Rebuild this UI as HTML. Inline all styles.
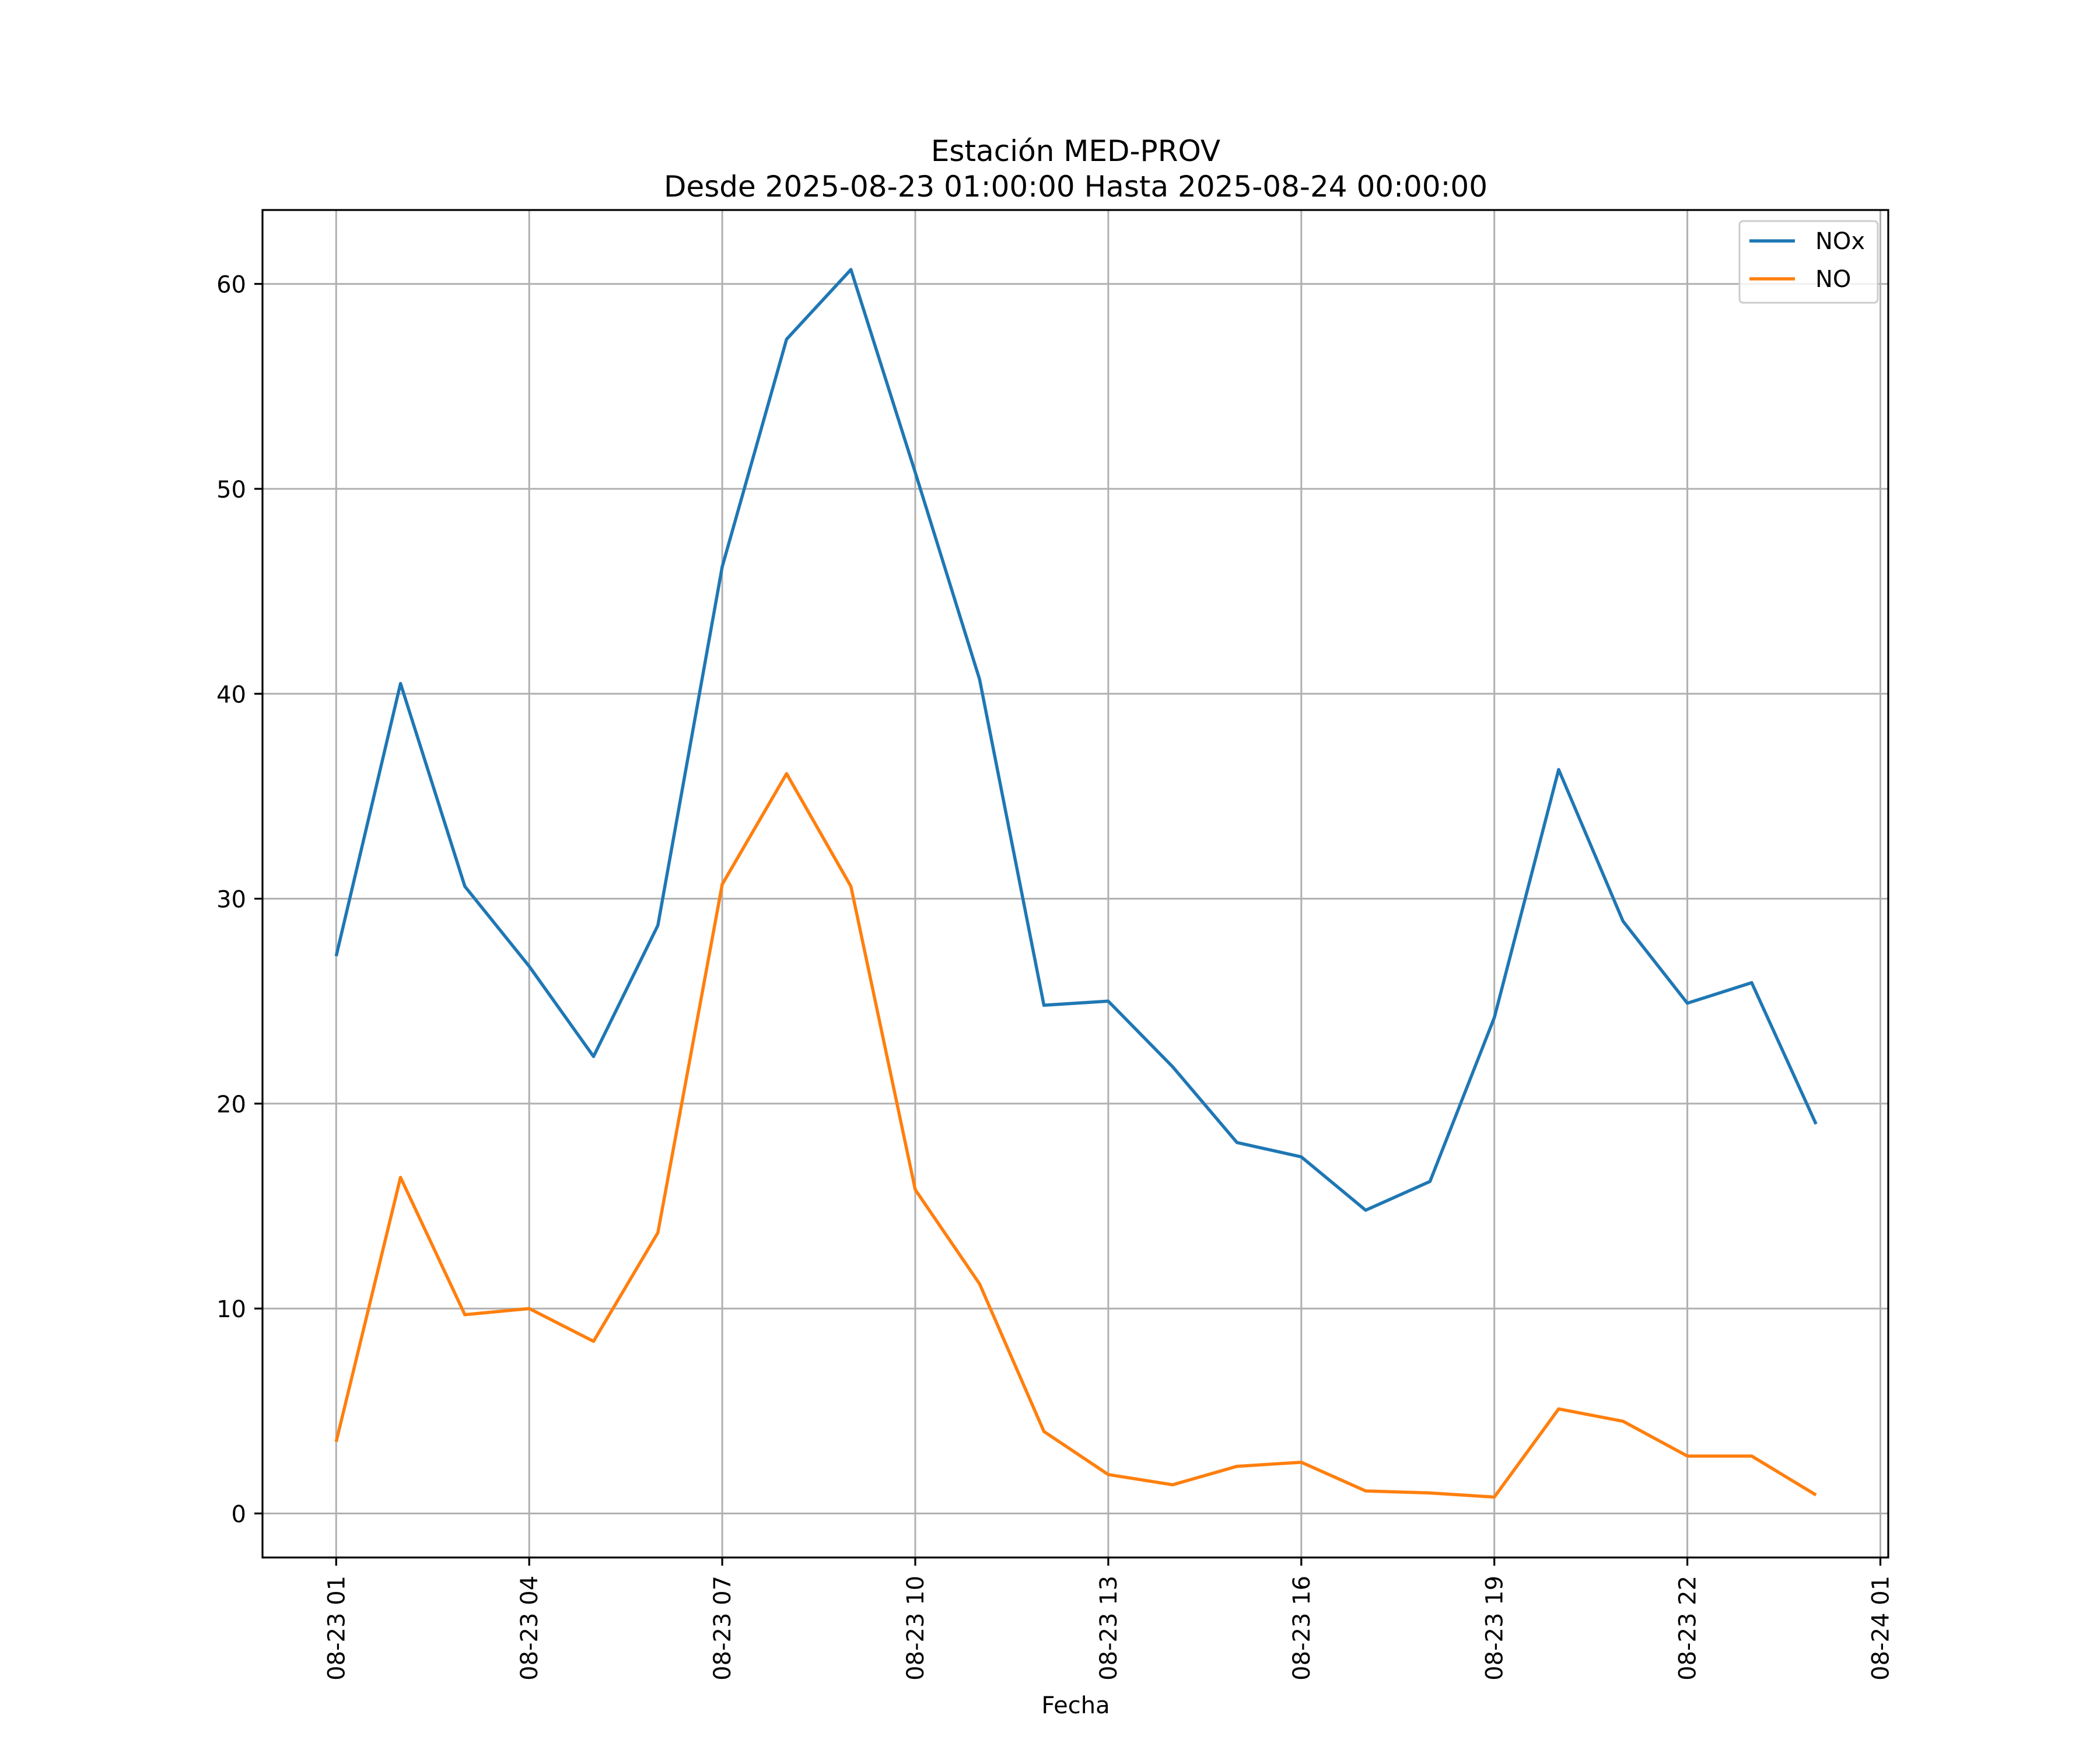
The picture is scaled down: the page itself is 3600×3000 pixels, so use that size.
<!DOCTYPE html>
<html><head><meta charset="utf-8"><style>html,body{margin:0;padding:0;background:#fff}svg{display:block}</style></head>
<body>
<svg id="chart" width="3600" height="3000" viewBox="0 0 3600 3000" xmlns="http://www.w3.org/2000/svg" font-family="DejaVu Sans, Liberation Sans, sans-serif">
<rect width="3600" height="3000" fill="#fff"/>
<text x="1844" y="276" font-size="50" text-anchor="middle">Estación MED-PROV</text>
<text x="1844" y="337" font-size="50" text-anchor="middle">Desde 2025-08-23 01:00:00 Hasta 2025-08-24 00:00:00</text>
<g id="grid"></g>
<g id="series"></g>
<rect x="450" y="360" width="2787" height="2310" fill="none" stroke="#000" stroke-width="3.2"/>
<g id="ticks"></g>
<text x="1844" y="2937" font-size="40" text-anchor="middle">Fecha</text>
<g>
<rect x="2982" y="379" width="237" height="140" rx="6" fill="#fff" fill-opacity="0.8" stroke="#ccc" stroke-width="3"/>
<line x1="2999" y1="413" x2="3077" y2="413" stroke="#1f77b4" stroke-width="5.5"/>
<text x="3112" y="427" font-size="40">NOx</text>
<line x1="2999" y1="478" x2="3077" y2="478" stroke="#ff7f0e" stroke-width="5.5"/>
<text x="3112" y="492" font-size="40">NO</text>
</g>
</svg>
<script>
const hours = [1,2,3,4,5,6,7,8,9,10,11,12,13,14,15,16,17,18,19,20,21,22,23,24];
const noxValues = [27.2,40.5,30.6,26.7,22.3,28.7,46.2,57.3,60.7,50.8,40.7,24.8,25.0,21.8,18.1,17.4,14.8,16.2,24.2,36.3,28.9,24.9,25.9,19.0];
const noValues = [3.5,16.4,9.7,10.0,8.4,13.7,30.7,36.1,30.6,15.8,11.2,4.0,1.9,1.4,2.3,2.5,1.1,1.0,0.8,5.1,4.5,2.8,2.8,0.9];
const yTicks = [0,10,20,30,40,50,60];
const xTickHours = [1,4,7,10,13,16,19,22,25];
const xTickLabels = ["08-23 01","08-23 04","08-23 07","08-23 10","08-23 13","08-23 16","08-23 19","08-23 22","08-24 01"];

const NS = "http://www.w3.org/2000/svg";
const L = 450, R = 3237, T = 360, B = 2670;
const xScale = h => 576.3 + (h - 1) * 110.3;
const yScale = v => 2594.5 - v * 35.13;
function mk(tag, attrs, parent) { const e = document.createElementNS(NS, tag); for (const k in attrs) e.setAttribute(k, attrs[k]); parent.appendChild(e); return e; }
const grid = document.getElementById('grid'), ticks = document.getElementById('ticks'), series = document.getElementById('series');

xTickHours.forEach((h, i) => {
  const x = xScale(h);
  if (x < R) {
    const g = mk('line', {x1:x, y1:T, x2:x, y2:B, stroke:'#b0b0b0', 'stroke-width':3}, grid);
    
    
  }
  const t = mk('line', {x1:x, y1:B, x2:x, y2:B+14, stroke:'#000', 'stroke-width':3.2}, ticks);
  
  
  const lb = mk('text', {x:0, y:0, 'font-size':40, 'text-anchor':'end', transform:`translate(${x+14},${B+31}) rotate(-90)`}, ticks);
  lb.textContent = xTickLabels[i];
  
  
});
yTicks.forEach(v => {
  const y = yScale(v);
  const g = mk('line', {x1:L, y1:y, x2:R, y2:y, stroke:'#b0b0b0', 'stroke-width':3}, grid);
  
  
  const t = mk('line', {x1:L-14, y1:y, x2:L, y2:y, stroke:'#000', 'stroke-width':3.2}, ticks);
  
  
  const lb = mk('text', {x:L-28, y:y+15, 'font-size':40, 'text-anchor':'end'}, ticks);
  lb.textContent = v;
  
  
});
function line(vals, color, name) {
  const pts = vals.map((v, i) => xScale(hours[i]).toFixed(1) + ',' + yScale(v).toFixed(1)).join(' ');
  const p = mk('polyline', {points:pts, fill:'none', stroke:color, 'stroke-width':5.5, 'stroke-linejoin':'round'}, series);
  
  
}
line(noxValues, '#1f77b4', 'nox-line');
line(noValues, '#ff7f0e', 'no-line');
</script>
</body></html>
